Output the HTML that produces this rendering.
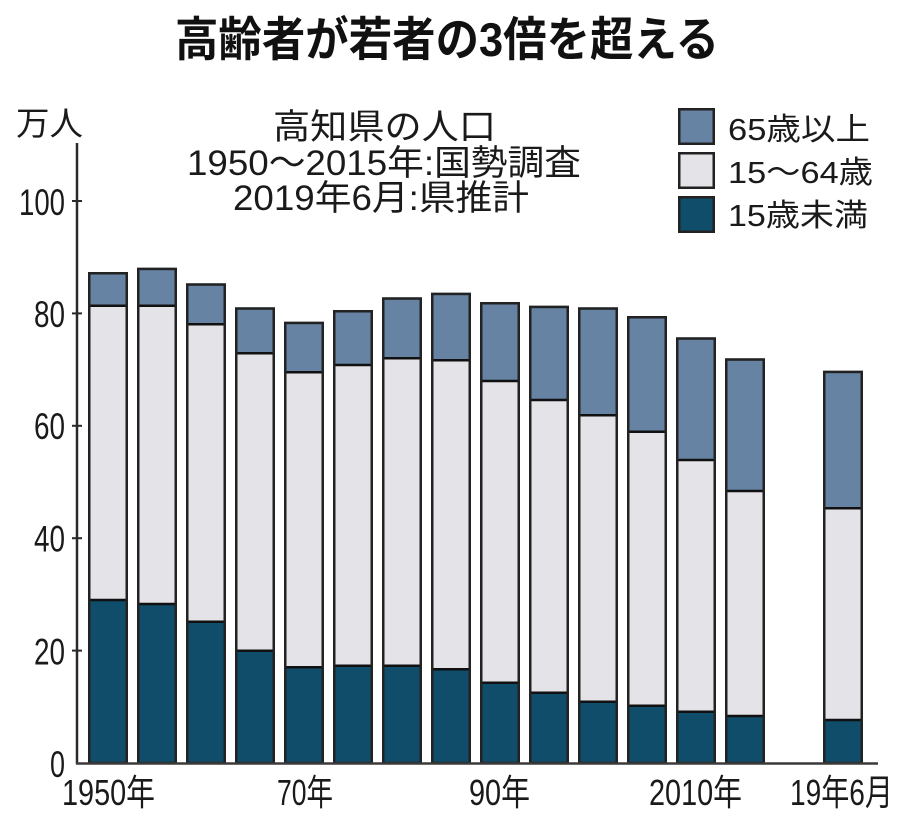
<!DOCTYPE html>
<html>
<head>
<meta charset="utf-8">
<style>
html,body{margin:0;padding:0;background:#fff;}
svg{display:block;}
text{font-family:"Liberation Sans","Noto Sans CJK JP",sans-serif;fill:#1a1a1a;}
</style>
</head>
<body>
<svg width="900" height="828" viewBox="0 0 900 828" xmlns="http://www.w3.org/2000/svg">
<rect width="900" height="828" fill="#fff"/>

<!-- Title -->
<text x="447" y="56" font-size="47" font-weight="bold" text-anchor="middle" textLength="544" lengthAdjust="spacingAndGlyphs" style="fill:#111">高齢者が若者の3倍を超える</text>

<!-- Unit -->
<text x="16" y="135" font-size="33" textLength="67" lengthAdjust="spacingAndGlyphs">万人</text>

<!-- Subtitle -->
<text x="384.5" y="139" font-size="35" text-anchor="middle" textLength="223" lengthAdjust="spacingAndGlyphs">高知県の人口</text>
<text x="384" y="175" font-size="35" text-anchor="middle" textLength="394" lengthAdjust="spacingAndGlyphs">1950～2015年:国勢調査</text>
<text x="381" y="210" font-size="35" text-anchor="middle" textLength="296" lengthAdjust="spacingAndGlyphs">2019年6月:県推計</text>

<!-- Legend -->
<rect x="679.25" y="109.25" width="34.5" height="34.5" fill="#6683a3" stroke="#222" stroke-width="2.5"/>
<rect x="679.25" y="153.25" width="34.5" height="34.5" fill="#e3e3e8" stroke="#222" stroke-width="2.5"/>
<rect x="679.25" y="197.25" width="34.5" height="34.5" fill="#0f4d6a" stroke="#222" stroke-width="2.5"/>
<text x="728" y="140" font-size="31" textLength="142" lengthAdjust="spacingAndGlyphs">65歳以上</text>
<text x="728" y="183" font-size="31" textLength="145" lengthAdjust="spacingAndGlyphs">15～64歳</text>
<text x="728" y="226" font-size="31" textLength="140" lengthAdjust="spacingAndGlyphs">15歳未満</text>

<!-- Y tick labels -->
<g font-size="37" text-anchor="end">
<text x="65" y="215" textLength="46" lengthAdjust="spacingAndGlyphs">100</text>
<text x="65" y="327" textLength="31" lengthAdjust="spacingAndGlyphs">80</text>
<text x="65" y="439" textLength="31" lengthAdjust="spacingAndGlyphs">60</text>
<text x="65" y="551.5" textLength="31" lengthAdjust="spacingAndGlyphs">40</text>
<text x="65" y="664.5" textLength="31" lengthAdjust="spacingAndGlyphs">20</text>
<text x="65" y="777" textLength="15" lengthAdjust="spacingAndGlyphs">0</text>
</g>

<!-- Bars -->
<g id="bars">
<!-- template: blue top..b1, light b1..b2, dark b2..763 -->
<g>
<rect x="88" y="272" width="40" height="33.7" fill="#6683a3"/><rect x="88" y="305.7" width="40" height="294.3" fill="#e3e3e8"/><rect x="88" y="600" width="40" height="163" fill="#0f4d6a"/>
<line x1="88" x2="128" y1="305.7" y2="305.7" stroke="#111" stroke-width="2.5"/><line x1="88" x2="128" y1="600" y2="600" stroke="#111" stroke-width="2.5"/>
<rect x="89.25" y="273.25" width="37.5" height="489.75" fill="none" stroke="#222" stroke-width="2.5"/>
</g>
<g>
<rect x="137" y="267.7" width="40" height="38" fill="#6683a3"/><rect x="137" y="305.7" width="40" height="298.3" fill="#e3e3e8"/><rect x="137" y="604" width="40" height="159" fill="#0f4d6a"/>
<line x1="137" x2="177" y1="305.7" y2="305.7" stroke="#111" stroke-width="2.5"/><line x1="137" x2="177" y1="604" y2="604" stroke="#111" stroke-width="2.5"/>
<rect x="138.25" y="268.95" width="37.5" height="494.05" fill="none" stroke="#222" stroke-width="2.5"/>
</g>
<g>
<rect x="186" y="283.3" width="40" height="41" fill="#6683a3"/><rect x="186" y="324.3" width="40" height="297.4" fill="#e3e3e8"/><rect x="186" y="621.7" width="40" height="141.3" fill="#0f4d6a"/>
<line x1="186" x2="226" y1="324.3" y2="324.3" stroke="#111" stroke-width="2.5"/><line x1="186" x2="226" y1="621.7" y2="621.7" stroke="#111" stroke-width="2.5"/>
<rect x="187.25" y="284.55" width="37.5" height="478.45" fill="none" stroke="#222" stroke-width="2.5"/>
</g>
<g>
<rect x="235" y="307.3" width="40" height="46" fill="#6683a3"/><rect x="235" y="353.3" width="40" height="297.4" fill="#e3e3e8"/><rect x="235" y="650.7" width="40" height="112.3" fill="#0f4d6a"/>
<line x1="235" x2="275" y1="353.3" y2="353.3" stroke="#111" stroke-width="2.5"/><line x1="235" x2="275" y1="650.7" y2="650.7" stroke="#111" stroke-width="2.5"/>
<rect x="236.25" y="308.55" width="37.5" height="454.45" fill="none" stroke="#222" stroke-width="2.5"/>
</g>
<g>
<rect x="284" y="321.7" width="40" height="50.6" fill="#6683a3"/><rect x="284" y="372.3" width="40" height="295" fill="#e3e3e8"/><rect x="284" y="667.3" width="40" height="95.7" fill="#0f4d6a"/>
<line x1="284" x2="324" y1="372.3" y2="372.3" stroke="#111" stroke-width="2.5"/><line x1="284" x2="324" y1="667.3" y2="667.3" stroke="#111" stroke-width="2.5"/>
<rect x="285.25" y="322.95" width="37.5" height="440.05" fill="none" stroke="#222" stroke-width="2.5"/>
</g>
<g>
<rect x="333" y="310" width="40" height="55" fill="#6683a3"/><rect x="333" y="365" width="40" height="300.7" fill="#e3e3e8"/><rect x="333" y="665.7" width="40" height="97.3" fill="#0f4d6a"/>
<line x1="333" x2="373" y1="365" y2="365" stroke="#111" stroke-width="2.5"/><line x1="333" x2="373" y1="665.7" y2="665.7" stroke="#111" stroke-width="2.5"/>
<rect x="334.25" y="311.25" width="37.5" height="451.75" fill="none" stroke="#222" stroke-width="2.5"/>
</g>
<g>
<rect x="382" y="297.3" width="40" height="61" fill="#6683a3"/><rect x="382" y="358.3" width="40" height="307.4" fill="#e3e3e8"/><rect x="382" y="665.7" width="40" height="97.3" fill="#0f4d6a"/>
<line x1="382" x2="422" y1="358.3" y2="358.3" stroke="#111" stroke-width="2.5"/><line x1="382" x2="422" y1="665.7" y2="665.7" stroke="#111" stroke-width="2.5"/>
<rect x="383.25" y="298.55" width="37.5" height="464.45" fill="none" stroke="#222" stroke-width="2.5"/>
</g>
<g>
<rect x="431" y="292.7" width="40" height="67.6" fill="#6683a3"/><rect x="431" y="360.3" width="40" height="309" fill="#e3e3e8"/><rect x="431" y="669.3" width="40" height="93.7" fill="#0f4d6a"/>
<line x1="431" x2="471" y1="360.3" y2="360.3" stroke="#111" stroke-width="2.5"/><line x1="431" x2="471" y1="669.3" y2="669.3" stroke="#111" stroke-width="2.5"/>
<rect x="432.25" y="293.95" width="37.5" height="469.05" fill="none" stroke="#222" stroke-width="2.5"/>
</g>
<g>
<rect x="480" y="302" width="40" height="79" fill="#6683a3"/><rect x="480" y="381" width="40" height="301.7" fill="#e3e3e8"/><rect x="480" y="682.7" width="40" height="80.3" fill="#0f4d6a"/>
<line x1="480" x2="520" y1="381" y2="381" stroke="#111" stroke-width="2.5"/><line x1="480" x2="520" y1="682.7" y2="682.7" stroke="#111" stroke-width="2.5"/>
<rect x="481.25" y="303.25" width="37.5" height="459.75" fill="none" stroke="#222" stroke-width="2.5"/>
</g>
<g>
<rect x="529" y="305.7" width="40" height="94.3" fill="#6683a3"/><rect x="529" y="400" width="40" height="292.7" fill="#e3e3e8"/><rect x="529" y="692.7" width="40" height="70.3" fill="#0f4d6a"/>
<line x1="529" x2="569" y1="400" y2="400" stroke="#111" stroke-width="2.5"/><line x1="529" x2="569" y1="692.7" y2="692.7" stroke="#111" stroke-width="2.5"/>
<rect x="530.25" y="306.95" width="37.5" height="456.05" fill="none" stroke="#222" stroke-width="2.5"/>
</g>
<g>
<rect x="578" y="307.3" width="40" height="108" fill="#6683a3"/><rect x="578" y="415.3" width="40" height="286.4" fill="#e3e3e8"/><rect x="578" y="701.7" width="40" height="61.3" fill="#0f4d6a"/>
<line x1="578" x2="618" y1="415.3" y2="415.3" stroke="#111" stroke-width="2.5"/><line x1="578" x2="618" y1="701.7" y2="701.7" stroke="#111" stroke-width="2.5"/>
<rect x="579.25" y="308.55" width="37.5" height="454.45" fill="none" stroke="#222" stroke-width="2.5"/>
</g>
<g>
<rect x="627" y="316" width="40" height="115.7" fill="#6683a3"/><rect x="627" y="431.7" width="40" height="274" fill="#e3e3e8"/><rect x="627" y="705.7" width="40" height="57.3" fill="#0f4d6a"/>
<line x1="627" x2="667" y1="431.7" y2="431.7" stroke="#111" stroke-width="2.5"/><line x1="627" x2="667" y1="705.7" y2="705.7" stroke="#111" stroke-width="2.5"/>
<rect x="628.25" y="317.25" width="37.5" height="445.75" fill="none" stroke="#222" stroke-width="2.5"/>
</g>
<g>
<rect x="676" y="337.3" width="40" height="122.7" fill="#6683a3"/><rect x="676" y="460" width="40" height="251.7" fill="#e3e3e8"/><rect x="676" y="711.7" width="40" height="51.3" fill="#0f4d6a"/>
<line x1="676" x2="716" y1="460" y2="460" stroke="#111" stroke-width="2.5"/><line x1="676" x2="716" y1="711.7" y2="711.7" stroke="#111" stroke-width="2.5"/>
<rect x="677.25" y="338.55" width="37.5" height="424.45" fill="none" stroke="#222" stroke-width="2.5"/>
</g>
<g>
<rect x="725" y="358.3" width="40" height="132.7" fill="#6683a3"/><rect x="725" y="491" width="40" height="225" fill="#e3e3e8"/><rect x="725" y="716" width="40" height="47" fill="#0f4d6a"/>
<line x1="725" x2="765" y1="491" y2="491" stroke="#111" stroke-width="2.5"/><line x1="725" x2="765" y1="716" y2="716" stroke="#111" stroke-width="2.5"/>
<rect x="726.25" y="359.55" width="37.5" height="403.45" fill="none" stroke="#222" stroke-width="2.5"/>
</g>
<g>
<rect x="823" y="370.7" width="40" height="137.6" fill="#6683a3"/><rect x="823" y="508.3" width="40" height="211.7" fill="#e3e3e8"/><rect x="823" y="720" width="40" height="43" fill="#0f4d6a"/>
<line x1="823" x2="863" y1="508.3" y2="508.3" stroke="#111" stroke-width="2.5"/><line x1="823" x2="863" y1="720" y2="720" stroke="#111" stroke-width="2.5"/>
<rect x="824.25" y="371.95" width="37.5" height="391.05" fill="none" stroke="#222" stroke-width="2.5"/>
</g>
</g>

<!-- Axes -->
<line x1="77" y1="143" x2="77" y2="764" stroke="#2a2a2a" stroke-width="2.5"/>
<line x1="76" y1="763.5" x2="878" y2="763.5" stroke="#3a3a3a" stroke-width="2.5"/>
<g stroke="#2a2a2a" stroke-width="2">
<line x1="72" x2="82" y1="201" y2="201"/>
<line x1="72" x2="82" y1="313.4" y2="313.4"/>
<line x1="72" x2="82" y1="425.8" y2="425.8"/>
<line x1="72" x2="82" y1="538.2" y2="538.2"/>
<line x1="72" x2="82" y1="650.6" y2="650.6"/>
</g>

<!-- X labels -->
<g font-size="36">
<text x="62" y="805" textLength="93" lengthAdjust="spacingAndGlyphs">1950年</text>
<text x="277" y="805" textLength="56" lengthAdjust="spacingAndGlyphs">70年</text>
<text x="469" y="805" textLength="61" lengthAdjust="spacingAndGlyphs">90年</text>
<text x="649" y="805" textLength="93" lengthAdjust="spacingAndGlyphs">2010年</text>
<text x="790" y="805" textLength="103" lengthAdjust="spacingAndGlyphs">19年6月</text>
</g>
</svg>
</body>
</html>
